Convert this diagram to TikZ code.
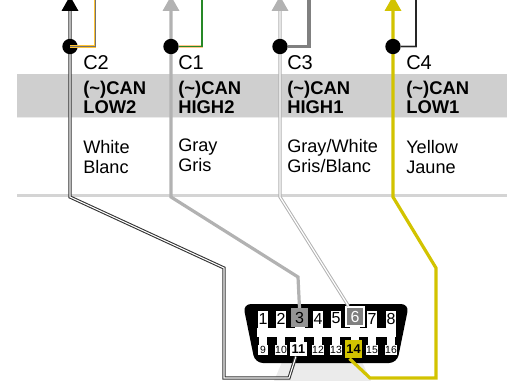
\documentclass[tikz,border=0pt]{standalone}
\usepackage{fontspec}
\setmainfont{Liberation Sans}
\usepackage{xcolor}
\usetikzlibrary{positioning}
\definecolor{bandgray}{HTML}{CFCFCF}
\definecolor{wiregray}{HTML}{B2B2B2}
\definecolor{wireyellow}{HTML}{D2C300}
\tikzset{
  pinbox/.style={fill=white, inner sep=0pt, minimum width=7.5, minimum height=11, font=\fontsize{12}{12}\selectfont},
  lowpin/.style={pinbox, minimum width=8, minimum height=8, font=\fontsize{7.8}{8}\selectfont},
  bigpin/.style={fill=#1, inner sep=0pt, minimum width=13, minimum height=14, font=\fontsize{12}{12}\selectfont},
  splice/.style={circle, fill=black, inner sep=0pt, minimum size=11.5},
  label/.style={anchor=base west, inner sep=0pt, font=\fontsize{15}{15}\selectfont},
  signal/.style={anchor=north west, inner sep=0pt, align=left, font=\fontsize{13.8}{14.4}\selectfont\bfseries},
  colorname/.style={anchor=north west, inner sep=0pt, align=left, font=\fontsize{13.6}{15}\selectfont},
  twin/.style={draw=#1, line width=2.4, line join=miter},
}
\begin{document}
\begin{tikzpicture}[x=0.75pt, y=-0.75pt]
  \useasboundingbox (0,0) rectangle (507,381);

  %Band
  \fill [bandgray] (17,74) rectangle (507,117);
  \draw [black!8, line width=1] (17,117.5) -- (507,117.5);
  \draw [black!17, line width=2] (17,195.5) -- (507,195.5);
  \fill [black!8] (274,381) -- (282,362) -- (362,362) -- (371,381) -- cycle;

  %Coordinates of the wires
  \coordinate (topC2) at (70,9);
  \coordinate (topC1) at (171,9);
  \coordinate (topC3) at (280,9);
  \coordinate (topC4) at (393,9);
  \coordinate (branchC2) at (95,0);
  \coordinate (branchC1) at (202,0);
  \coordinate (branchC3) at (309,0);
  \coordinate (branchC4) at (416,0);

  %Connector body
  \fill [black, rounded corners=6] (243,304) -- (409,304) -- (397,363) -- (255,363) -- cycle;
  \fill [white] (257,328) rectangle (396,337);
  \foreach \x in {263,281,299.5,318,336,355,372,391} {
    \fill [white] (\x-5,325) rectangle (\x+5,329);
    \fill [white] (\x-4,336) rectangle (\x+4,346);
  }

  %Pins
  \foreach \n/\x in {1/263,2/281,4/318,5/336,7/372,8/391}
    \node [pinbox] (pin\n) at (\x,318.5) {\n};
  \foreach \n/\x in {9/263,10/281,12/318,13/336,15/372,16/391}
    \node [lowpin] (pin\n) at (\x,350) {\n};
  \node [bigpin=black!42] (pin3) at (299.5,317.5) {3};
  \node [bigpin=black!50, draw=white, line width=1.5, text=white, minimum width=13.5, minimum height=14.5] (pin6) at (355,316.5) {6};
  \node [bigpin=white, minimum height=11, font=\fontsize{9.6}{9.6}\selectfont\bfseries] (pin11) at (298.5,349) {11};
  \node [bigpin=wireyellow, font=\fontsize{9.6}{9.6}\selectfont\bfseries] (pin14) at (353.5,349) {14};

  %Wires
  \draw [black!80, line width=2.4] (topC2) -- (70,197) -- (224,268) -- (224,378) -- (289,378) -- ([xshift=-2]pin11.south);
  \draw [white, line width=0.8] (topC2) -- (70,197) -- (224,268) -- (224,378) -- (289,378) -- ([xshift=-2]pin11.south);
  \draw [twin=wiregray] (topC1) -- (171,197) -- (298,277) -- (pin3.north);
  \draw [wiregray, line width=2.4] (topC3) -- (280,197) -- ([xshift=-5]pin6.north);
  \draw [white, line width=0.9] (topC3) -- (280,197) -- ([xshift=-5]pin6.north);
  \draw [twin=wireyellow] (topC4) -- (393,197) -- (436,268) -- (436,378) -- (370,378) -- ([xshift=-3]pin14.south);

  %Arrowheads
  \fill [black] (61.5,11) -- (70,-4) -- (78.5,11) -- cycle;
  \fill [wiregray] (162.5,11) -- (171,-4) -- (179.5,11) -- cycle;
  \fill [wiregray] (271.5,11) -- (280,-4) -- (288.5,11) -- cycle;
  \fill [wireyellow] (384.5,11) -- (393,-4) -- (401.5,11) -- cycle;

  %Splices and branches
  \node [splice] (dotC2) at (70,46.5) {};
  \node [splice] (dotC1) at (171,46.5) {};
  \node [splice] (dotC3) at (280,46.5) {};
  \node [splice] (dotC4) at (393,46.5) {};

  \draw [orange!60!yellow!80!white, line width=2] (dotC2.center) -- (95,46.5) -- (branchC2);
  \draw [black!55, line width=0.5] (dotC2.center) -- (95,46.5) -- (branchC2);
  \draw [orange!45, line width=2] (dotC1) -- (202,46.5) -- (branchC1);
  \draw [green!45!black!85, line width=1] (dotC1) -- (202,46.5) -- (branchC1);
  \draw [black!50, line width=2.3] (dotC3) -- (309,46.5) -- (branchC3);
  \draw [black!25, line width=2] (dotC4) -- (416,46.5) -- (branchC4);
  \draw [black!85, line width=0.9] (dotC4) -- (416,46.5) -- (branchC4);

  %Labels
  \node [label] (nameC2) at (83,70) {C2};
  \node [label] (nameC1) at (178,70) {C1};
  \node [label] (nameC3) at (287,70) {C3};
  \node [label] (nameC4) at (406,70) {C4};

  \node [signal] (sigC2) at (83,80.5) {(\textasciitilde)CAN\\LOW2};
  \node [signal] (sigC1) at (178,80.5) {(\textasciitilde)CAN\\HIGH2};
  \node [signal] (sigC3) at (287,80.5) {(\textasciitilde)CAN\\HIGH1};
  \node [signal] (sigC4) at (406,80.5) {(\textasciitilde)CAN\\LOW1};

  \node [colorname] (colC2) at (83,140) {White\\Blanc};
  \node [colorname] (colC1) at (178,139) {Gray\\Gris};
  \node [colorname] (colC3) at (287,139) {Gray/White\\Gris/Blanc};
  \node [colorname] (colC4) at (406,140) {Yellow\\Jaune};
\end{tikzpicture}
\end{document}
